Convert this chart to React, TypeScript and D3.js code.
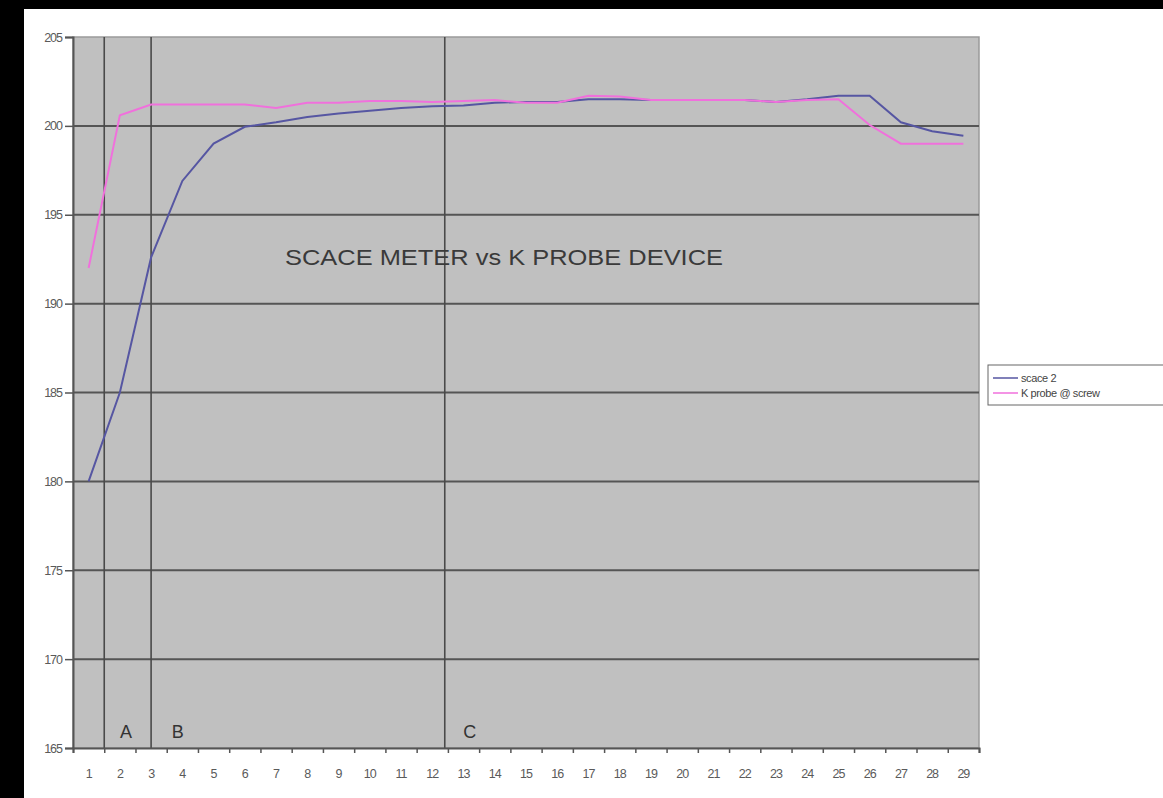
import { useEffect, useRef } from "react";
import * as d3 from "d3";

const categories = d3.range(1, 30).map(String);
const scaceValues = [
  180.0, 185.0, 192.6, 196.9, 199.0, 199.95, 200.2, 200.5, 200.7, 200.85,
  201.0, 201.1, 201.15, 201.3, 201.35, 201.35, 201.5, 201.5, 201.45, 201.45,
  201.45, 201.45, 201.35, 201.5, 201.7, 201.7, 200.2, 199.7, 199.45,
];
const probeValues = [
  192.0, 200.6, 201.2, 201.2, 201.2, 201.2, 201.0, 201.3, 201.3, 201.4,
  201.4, 201.35, 201.4, 201.45, 201.3, 201.3, 201.7, 201.65, 201.45, 201.45,
  201.45, 201.45, 201.35, 201.45, 201.5, 200.05, 199.0, 199.0, 199.0,
];
const yTicks = [165, 170, 175, 180, 185, 190, 195, 200, 205];
const seriesNames = ["scace 2", "K probe @ screw"];
// marker lines and their letters, in category units (1 = centre of first category)
const markerLines = [1.5, 3, 12.4];
const markerLabels = [
  { text: "A", at: 2.2 },
  { text: "B", at: 3.85 },
  { text: "C", at: 13.2 },
];
const chartTitle = "SCACE METER vs K PROBE DEVICE";

const W = 1163;
const H = 798;
const plot = { left: 73, right: 979, top: 37, bottom: 748 };
const colors = { scace: "#5656a2", probe: "#f070dc", grid: "#555", text: "#5a5a5a" };
const font = "Liberation Sans, Arial, sans-serif";

export default function App() {
  const svgRef = useRef<SVGSVGElement | null>(null);

  useEffect(() => {
    const svgEl = svgRef.current;
    if (!svgEl) return;
    const svg = d3.select(svgEl);
    svg.selectAll("*").remove();

    const x = d3.scaleLinear().domain([0.5, categories.length + 0.5]).range([plot.left, plot.right]);
    const y = d3.scaleLinear().domain([165, 205]).range([plot.bottom, plot.top]);

    svg.append("rect").attr("width", W).attr("height", H).attr("fill", "#fff");
    svg.append("rect").attr("width", W).attr("height", 9).attr("fill", "#000");
    svg.append("rect").attr("width", 24).attr("height", H).attr("fill", "#000");

    svg
      .append("rect")
      .attr("x", plot.left)
      .attr("y", plot.top)
      .attr("width", plot.right - plot.left)
      .attr("height", plot.bottom - plot.top)
      .attr("fill", "#c0c0c0")
      .attr("stroke", "#9a9a9a")
      .attr("stroke-width", 1.5);

    // horizontal gridlines
    svg
      .append("g")
      .selectAll("line")
      .data(yTicks.filter((t) => t > 165 && t < 205))
      .join("line")
      .attr("x1", plot.left)
      .attr("x2", plot.right)
      .attr("y1", (d) => y(d))
      .attr("y2", (d) => y(d))
      .attr("stroke", colors.grid)
      .attr("stroke-width", 2);

    // drawn marker lines
    svg
      .append("g")
      .selectAll("line")
      .data(markerLines)
      .join("line")
      .attr("x1", (d) => x(d))
      .attr("x2", (d) => x(d))
      .attr("y1", plot.top)
      .attr("y2", plot.bottom)
      .attr("stroke", "#4a4a4a")
      .attr("stroke-width", 1.6);

    // axes
    const yAxis = svg.append("g").attr("transform", `translate(${plot.left},0)`);
    yAxis.call(d3.axisLeft(y).tickValues(yTicks).tickSize(8).tickPadding(3).tickFormat(d3.format("d")));
    const xAxis = svg.append("g").attr("transform", `translate(0,${plot.bottom})`);
    xAxis.call(
      d3
        .axisBottom(x)
        .tickValues(d3.range(0.5, categories.length + 1, 1))
        .tickSize(5)
        .tickFormat(() => "")
    );
    for (const g of [xAxis, yAxis]) {
      g.select(".domain").attr("stroke", "#555").attr("stroke-width", 2);
      g.selectAll(".tick line").attr("stroke", "#555").attr("stroke-width", 1.5);
    }
    yAxis
      .selectAll(".tick text")
      .attr("fill", colors.text)
      .attr("font-family", font)
      .attr("font-size", 12.5)
      .attr("letter-spacing", -1);

    svg
      .append("g")
      .selectAll("text")
      .data(categories)
      .join("text")
      .attr("x", (_, i) => x(i + 1))
      .attr("y", 778)
      .attr("text-anchor", "middle")
      .attr("fill", colors.text)
      .attr("font-family", font)
      .attr("font-size", 12.5)
      .attr("letter-spacing", -1)
      .text((d) => d);

    const line = d3
      .line<number>()
      .x((_, i) => x(i + 1))
      .y((d) => y(d));

    svg
      .append("path")
      .datum(scaceValues)
      .attr("d", line)
      .attr("fill", "none")
      .attr("stroke", colors.scace)
      .attr("stroke-width", 2);
    svg
      .append("path")
      .datum(probeValues)
      .attr("d", line)
      .attr("fill", "none")
      .attr("stroke", colors.probe)
      .attr("stroke-width", 2);

    svg
      .append("text")
      .attr("x", 504)
      .attr("y", 265)
      .attr("text-anchor", "middle")
      .attr("fill", "#3a3a3a")
      .attr("font-family", font)
      .attr("font-size", 22)
      .attr("textLength", 438)
      .attr("lengthAdjust", "spacingAndGlyphs")
      .text(chartTitle);

    svg
      .append("g")
      .selectAll("text")
      .data(markerLabels)
      .join("text")
      .attr("x", (d) => x(d.at))
      .attr("y", 738)
      .attr("text-anchor", "middle")
      .attr("fill", "#333")
      .attr("font-family", font)
      .attr("font-size", 18)
      .text((d) => d.text);

    // legend, cut off at the right edge
    const legend = svg.append("g").attr("transform", "translate(988,365)");
    legend
      .append("rect")
      .attr("width", 200)
      .attr("height", 40)
      .attr("fill", "#fff")
      .attr("stroke", "#666")
      .attr("stroke-width", 1);
    const rows = legend
      .selectAll("g.row")
      .data(seriesNames)
      .join("g")
      .attr("class", "row")
      .attr("transform", (_, i) => `translate(0,${13 + i * 15})`);
    rows
      .append("line")
      .attr("x1", 5)
      .attr("x2", 30)
      .attr("stroke", (_, i) => (i === 0 ? colors.scace : colors.probe))
      .attr("stroke-width", 1.5);
    rows
      .append("text")
      .attr("x", 33)
      .attr("dy", "0.35em")
      .attr("fill", "#444")
      .attr("font-family", font)
      .attr("font-size", 11)
      .attr("letter-spacing", -0.4)
      .text((d) => d);
  }, []);

  return (
    <div style={{ position: "fixed", left: 0, top: 0 }}>
      <svg ref={svgRef} width={W} height={H} viewBox={`0 0 ${W} ${H}`} style={{ display: "block" }} />
    </div>
  );
}
